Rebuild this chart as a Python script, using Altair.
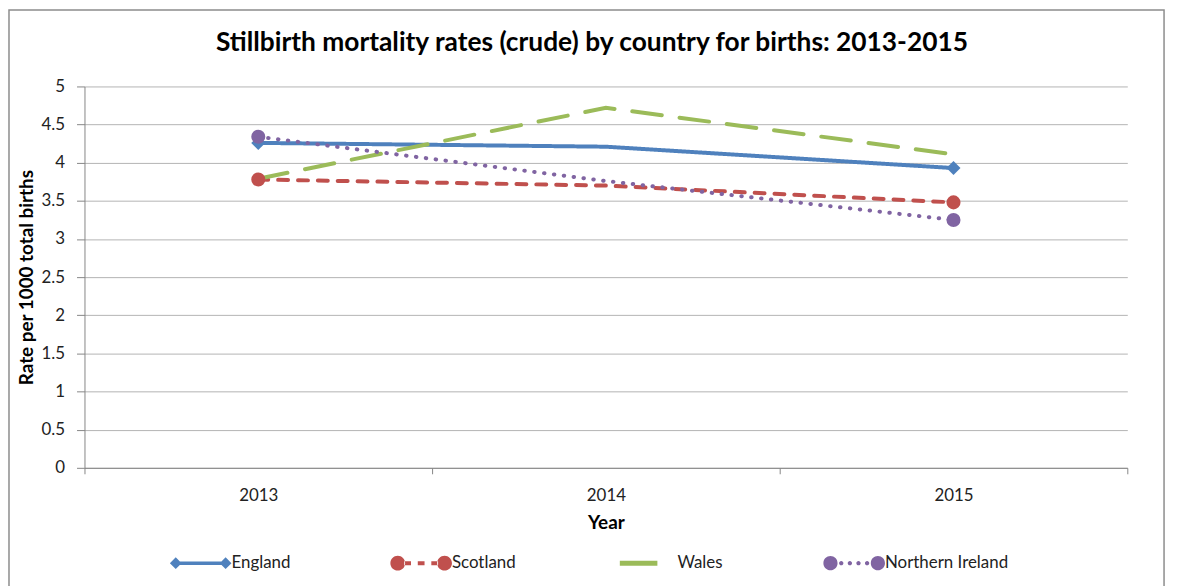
import altair as alt
import pandas as pd

years = [2013, 2014, 2015]
countries = ["England", "Scotland", "Wales", "Northern Ireland"]
england = [4.26, 4.21, 3.93]
scotland = [3.78, 3.70, 3.48]
wales = [3.79, 4.72, 4.11]
northern_ireland = [4.34, 3.76, 3.25]

colors = ["#4F81BD", "#C0504D", "#9BBB59", "#8064A2"]
dashes = [[1, 0], [10, 10], [30, 18], [0.5, 9.5]]
markers = ["diamond", "circle", None, "circle"]

rows = []
for name, vals in zip(countries, [england, scotland, wales, northern_ireland]):
    for yr, v in zip(years, vals):
        rows.append({"year": yr, "country": name, "rate": v})
df = pd.DataFrame(rows)

FONT = "Lato"

# legend symbol paths (unit box -1..1)
p_eng = ("M-1,0L-0.81,-0.19L-0.62,0L-0.81,0.19Z M0.62,0L0.81,-0.19L1,0L0.81,0.19Z "
         "M-0.81,-0.056L0.81,-0.056L0.81,0.056L-0.81,0.056Z")
circ = lambda cx, r: (f"M{cx - r},0A{r},{r} 0 1,0 {cx + r},0A{r},{r} 0 1,0 {cx - r},0Z ")
p_sco = (circ(-0.76, 0.24) + circ(0.76, 0.24) +
         "M-0.55,-0.065L-0.33,-0.065L-0.33,0.065L-0.55,0.065Z "
         "M-0.11,-0.065L0.11,-0.065L0.11,0.065L-0.11,0.065Z "
         "M0.33,-0.065L0.55,-0.065L0.55,0.065L0.33,0.065Z")
p_wal = "M-0.87,-0.08L0.35,-0.08L0.35,0.08L-0.87,0.08Z"
p_ni = (circ(-0.77, 0.23) + circ(0.77, 0.23) +
        circ(-0.42, 0.07) + circ(-0.14, 0.07) + circ(0.14, 0.07) + circ(0.42, 0.07))

xaxis = alt.Axis(values=[2012.5, 2013.5, 2014.5, 2015.5],
                 labelExpr="datum.value < 2015 ? format(datum.value + 0.5, 'd') : ''",
                 labelOffset=175, labelOverlap=False, labelBound=False,
                 labelFlush=False,
                 grid=False, tickSize=6, tickColor="#868686",
                 domainColor="#868686", labelPadding=14,
                 labelFont=FONT, labelFontSize=17, labelColor="#222",
                 title="Year", titleFont=FONT, titleFontSize=19,
                 titleFontWeight="bold", titleColor="#000", titlePadding=10)
yaxis = alt.Axis(values=[0, 0.5, 1, 1.5, 2, 2.5, 3, 3.5, 4, 4.5, 5],
                 format=".1~f", grid=True, gridColor="#b3b3b3",
                 labelOverlap=False, labelFlush=False,
                 tickSize=8, tickColor="#868686", domainColor="#868686",
                 labelPadding=12, labelFont=FONT, labelFontSize=17,
                 labelColor="#222",
                 title="Rate per 1000 total births", titleFont=FONT,
                 titleFontSize=19, titleFontWeight="bold", titleColor="#000",
                 titlePadding=5)

xenc = alt.X("year:Q", scale=alt.Scale(domain=[2012.5, 2015.5], nice=False, zero=False),
             axis=xaxis)
yenc = alt.Y("rate:Q", scale=alt.Scale(domain=[0, 5], nice=False), axis=yaxis)

cscale = alt.Scale(domain=countries, range=colors)

base = alt.Chart(df)

leg = alt.Legend(title=None, orient="none", legendX=86, legendY=449,
                 direction="horizontal", columns=4,
                 columnPadding=100, symbolSize=3844, symbolOpacity=1,
                 symbolStrokeWidth=0,
                 labelFont=FONT, labelFontSize=17, labelColor="#222",
                 labelOffset=0, labelLimit=200)

legend_layer = base.mark_point(
    filled=True, size=3844, opacity=0
).encode(
    x=xenc, y=yenc,
    color=alt.Color("country:N", scale=cscale, legend=leg),
    shape=alt.Shape("country:N",
                    scale=alt.Scale(domain=countries, range=[p_eng, p_sco, p_wal, p_ni]),
                    legend=leg),
)

layers = [legend_layer]

frame = alt.Chart(pd.DataFrame({"k": [0]})).mark_rect(
    fill=None, stroke="#8c8c8c", strokeWidth=1.5
).encode(
    x=alt.value(-76), x2=alt.value(1087), y=alt.value(-77), y2=alt.value(540)
)
layers.append(frame)

for name, col, dash in zip(countries, colors, dashes):
    layers.append(
        base.transform_filter(alt.datum.country == name)
        .mark_line(strokeWidth=4, strokeCap="round", strokeDash=dash, color=col)
        .encode(x=xenc, y=yenc, order=alt.Order("year:Q"))
    )

for name, col, mk in zip(countries, colors, markers):
    if mk is None:
        continue
    layers.append(
        base.transform_filter((alt.datum.country == name) & (alt.datum.year != 2014))
        .mark_point(shape=mk, filled=True, size=200, opacity=1, color=col)
        .encode(x=xenc, y=yenc)
    )

chart = alt.layer(*layers).properties(
    width=1050, height=384,
    padding={"left": 77, "top": 77, "right": 44, "bottom": 117},
    autosize=alt.AutoSizeParams(type="none"),
    title=alt.Title("Stillbirth mortality rates (crude) by country for births: 2013-2015",
                    font=FONT, fontSize=26.5, fontWeight="bold", color="#000",
                    anchor="middle", offset=-48, dx=-14),
    background="white",
).configure_view(stroke=None)

chart.save("out.html", embed_options={"renderer": "svg", "actions": False})
